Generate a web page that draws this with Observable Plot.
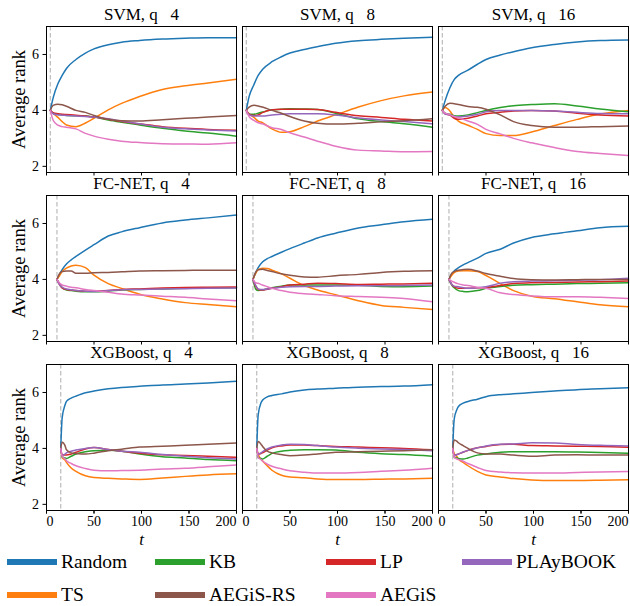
<!DOCTYPE html>
<html>
<head>
<meta charset="utf-8">
<script src="https://cdn.jsdelivr.net/npm/d3@7"></script>
<script src="https://cdn.jsdelivr.net/npm/@observablehq/plot@0.6"></script>
<style>
  html, body { margin: 0; padding: 0; background: #fff; }
  #wrap { position: relative; width: 630px; height: 606px; font-family: 'Liberation Serif', 'Times New Roman', 'Liberation Sans', Arial, sans-serif; }
  #wrap svg text { white-space: pre; }
  #legend { position: absolute; left: 0; top: 0; width: 630px; height: 606px; pointer-events: none; }
  .li { position: absolute; display: flex; align-items: center; font-size: 19.5px; color: #000; }
  .sw { width: 50px; height: 6px; margin-right: 4px; }
</style>
</head>
<body>
<div id="wrap"><div id="chart"></div><div id="legend"></div></div>
<script>
// ---- categories ----
const methods = ["Random", "TS", "KB", "LP", "PLAyBOOK", "AEGiS-RS", "AEGiS"]; // draw order
const colors  = ["#1f77b4", "#ff7f0e", "#2ca02c", "#d62728", "#9467bd", "#8c564b", "#e377c2"];
const legendOrder = ["Random", "KB", "LP", "PLAyBOOK", "TS", "AEGiS-RS", "AEGiS"];
const models = ["SVM", "FC-NET", "XGBoost"];
const budgets = [4, 8, 16];
const xTicksMid = [50, 100, 150];
const xTickFirst = [0];
const xTickLast = [200];
const yTicks = [2, 4, 6];
const warmStart = [4, 11, 15]; // dashed line per model row

// ---- time grids (per model row) ----
const tSVM = [4, 7, 12, 16.5, 21, 31, 41, 50, 65, 79, 98, 122, 146, 170, 200];
const tFC  = [11, 14, 16.5, 21, 26, 31, 41, 50, 65, 79, 98, 122, 146, 170, 200];
const tXGB = [15, 16.5, 19.5, 21, 26, 31, 41, 50, 65, 79, 98, 122, 146, 170, 200];

// ---- series values, each in the order of `methods` ----
const svm_q4 = [
  [4.0, 4.45, 4.95, 5.25, 5.5, 5.82, 6.05, 6.2, 6.35, 6.44, 6.5, 6.55, 6.58, 6.6, 6.6],
  [4.0, 3.9, 3.75, 3.6, 3.48, 3.42, 3.55, 3.72, 4.02, 4.25, 4.5, 4.75, 4.88, 4.98, 5.11],
  [4.0, 3.9, 3.86, 3.84, 3.82, 3.81, 3.8, 3.76, 3.66, 3.58, 3.48, 3.36, 3.26, 3.19, 3.08],
  [4.0, 3.92, 3.88, 3.86, 3.85, 3.83, 3.8, 3.76, 3.68, 3.6, 3.52, 3.42, 3.36, 3.32, 3.29],
  [4.0, 3.88, 3.84, 3.83, 3.82, 3.8, 3.78, 3.76, 3.7, 3.62, 3.52, 3.4, 3.34, 3.3, 3.26],
  [4.0, 4.18, 4.22, 4.2, 4.15, 4.0, 3.93, 3.82, 3.68, 3.63, 3.62, 3.67, 3.72, 3.76, 3.82],
  [4.0, 3.65, 3.47, 3.42, 3.4, 3.34, 3.18, 3.08, 2.97, 2.9, 2.85, 2.81, 2.8, 2.79, 2.84]
];
const svm_q8 = [
  [4.0, 4.5, 4.92, 5.25, 5.46, 5.74, 5.92, 6.05, 6.18, 6.28, 6.4, 6.49, 6.54, 6.58, 6.62],
  [4.0, 3.88, 3.75, 3.62, 3.56, 3.34, 3.22, 3.24, 3.42, 3.62, 3.84, 4.12, 4.35, 4.52, 4.66],
  [4.0, 3.86, 3.86, 3.9, 3.94, 4.02, 4.04, 4.06, 4.05, 4.03, 3.9, 3.7, 3.6, 3.52, 3.4],
  [4.0, 3.86, 3.82, 3.84, 3.92, 4.02, 4.04, 4.04, 4.04, 4.03, 3.93, 3.81, 3.75, 3.68, 3.62],
  [4.0, 3.84, 3.8, 3.8, 3.8, 3.84, 3.86, 3.88, 3.88, 3.88, 3.84, 3.73, 3.66, 3.6, 3.52],
  [4.0, 4.12, 4.18, 4.16, 4.12, 4.0, 3.9, 3.78, 3.62, 3.54, 3.51, 3.54, 3.59, 3.63, 3.7],
  [4.0, 3.78, 3.64, 3.56, 3.52, 3.38, 3.32, 3.2, 3.05, 2.9, 2.72, 2.58, 2.55, 2.52, 2.53]
];
const svm_q16 = [
  [4.0, 4.35, 4.81, 5.1, 5.25, 5.44, 5.65, 5.82, 5.98, 6.1, 6.24, 6.36, 6.45, 6.5, 6.52],
  [4.0, 4.1, 3.98, 3.76, 3.62, 3.47, 3.32, 3.17, 3.1, 3.1, 3.23, 3.46, 3.68, 3.87, 4.0],
  [4.0, 3.9, 3.86, 3.81, 3.8, 3.84, 3.92, 4.0, 4.1, 4.17, 4.21, 4.24, 4.16, 4.05, 3.95],
  [4.0, 3.88, 3.83, 3.72, 3.68, 3.72, 3.8, 3.88, 3.93, 3.98, 4.0, 3.98, 3.9, 3.84, 3.8],
  [4.0, 3.87, 3.84, 3.78, 3.76, 3.8, 3.86, 3.95, 4.0, 4.0, 4.0, 3.98, 3.93, 3.89, 3.88],
  [4.0, 4.15, 4.26, 4.24, 4.21, 4.14, 4.11, 4.04, 3.84, 3.6, 3.46, 3.4, 3.4, 3.42, 3.44],
  [4.0, 3.9, 3.85, 3.78, 3.74, 3.62, 3.5, 3.32, 3.16, 3.0, 2.84, 2.67, 2.53, 2.46, 2.39]
];
const fc_q4 = [
  [4.0, 4.2, 4.35, 4.55, 4.7, 4.82, 5.05, 5.24, 5.55, 5.7, 5.85, 6.02, 6.12, 6.2, 6.3],
  [4.0, 4.15, 4.28, 4.4, 4.48, 4.51, 4.42, 4.15, 3.85, 3.68, 3.47, 3.3, 3.17, 3.1, 3.02],
  [4.0, 3.82, 3.7, 3.62, 3.6, 3.58, 3.56, 3.56, 3.58, 3.62, 3.64, 3.66, 3.68, 3.69, 3.7],
  [4.0, 3.8, 3.7, 3.64, 3.62, 3.6, 3.58, 3.58, 3.6, 3.64, 3.66, 3.69, 3.71, 3.72, 3.73],
  [4.0, 3.8, 3.72, 3.66, 3.63, 3.6, 3.58, 3.57, 3.6, 3.63, 3.64, 3.66, 3.67, 3.68, 3.69],
  [4.0, 4.22, 4.28, 4.3, 4.3, 4.22, 4.22, 4.24, 4.25, 4.27, 4.3, 4.31, 4.32, 4.33, 4.33],
  [4.0, 3.86, 3.8, 3.76, 3.72, 3.7, 3.64, 3.6, 3.54, 3.48, 3.44, 3.4, 3.36, 3.3, 3.24]
];
const fc_q8 = [
  [4.0, 4.25, 4.42, 4.62, 4.74, 4.82, 4.97, 5.1, 5.3, 5.48, 5.65, 5.84, 5.95, 6.06, 6.15],
  [4.0, 4.22, 4.35, 4.4, 4.39, 4.33, 4.2, 4.04, 3.78, 3.62, 3.45, 3.24, 3.07, 3.0, 2.92],
  [4.0, 3.65, 3.6, 3.62, 3.66, 3.7, 3.76, 3.8, 3.8, 3.8, 3.8, 3.79, 3.75, 3.74, 3.76],
  [4.0, 3.75, 3.64, 3.62, 3.65, 3.68, 3.74, 3.8, 3.83, 3.86, 3.85, 3.82, 3.83, 3.84, 3.86],
  [4.0, 3.78, 3.66, 3.64, 3.66, 3.68, 3.72, 3.74, 3.75, 3.75, 3.76, 3.77, 3.77, 3.78, 3.8],
  [4.0, 4.26, 4.34, 4.36, 4.32, 4.28, 4.2, 4.15, 4.09, 4.08, 4.13, 4.18, 4.25, 4.29, 4.31],
  [4.0, 3.88, 3.86, 3.8, 3.74, 3.68, 3.6, 3.54, 3.49, 3.46, 3.42, 3.39, 3.36, 3.32, 3.2]
];
const fc_q16 = [
  [4.0, 4.2, 4.3, 4.42, 4.52, 4.6, 4.76, 4.93, 5.08, 5.3, 5.5, 5.63, 5.74, 5.85, 5.9],
  [4.0, 4.15, 4.24, 4.3, 4.31, 4.31, 4.28, 4.14, 3.85, 3.6, 3.4, 3.31, 3.2, 3.09, 3.02],
  [4.0, 3.8, 3.7, 3.6, 3.57, 3.56, 3.6, 3.68, 3.75, 3.79, 3.81, 3.83, 3.85, 3.86, 3.88],
  [4.0, 3.82, 3.74, 3.68, 3.68, 3.68, 3.7, 3.71, 3.78, 3.85, 3.88, 3.89, 3.91, 3.92, 3.94],
  [4.0, 3.82, 3.76, 3.74, 3.7, 3.68, 3.7, 3.74, 3.86, 3.92, 3.94, 3.95, 3.97, 3.99, 4.04],
  [4.0, 4.22, 4.28, 4.33, 4.35, 4.36, 4.3, 4.21, 4.11, 4.03, 3.99, 3.98, 3.99, 4.0, 4.0],
  [4.0, 3.94, 3.9, 3.84, 3.8, 3.78, 3.72, 3.68, 3.52, 3.46, 3.41, 3.38, 3.38, 3.36, 3.32]
];
const xgb_q4 = [
  [4.0, 5.1, 5.55, 5.68, 5.8, 5.87, 5.99, 6.05, 6.13, 6.18, 6.22, 6.27, 6.3, 6.34, 6.4],
  [4.0, 3.68, 3.58, 3.5, 3.3, 3.18, 3.02, 2.96, 2.93, 2.91, 2.89, 2.94, 3.0, 3.05, 3.09],
  [4.0, 3.7, 3.66, 3.64, 3.72, 3.8, 3.88, 3.92, 3.93, 3.9, 3.8, 3.7, 3.66, 3.6, 3.56],
  [4.0, 3.76, 3.76, 3.76, 3.8, 3.86, 3.98, 4.03, 3.96, 3.9, 3.83, 3.77, 3.75, 3.72, 3.68],
  [4.0, 3.74, 3.8, 3.84, 3.9, 3.94, 4.0, 4.03, 3.96, 3.9, 3.86, 3.78, 3.72, 3.67, 3.62],
  [4.0, 4.22, 4.1, 3.95, 3.84, 3.82, 3.8, 3.83, 3.92, 3.97, 4.05, 4.08, 4.11, 4.15, 4.19],
  [4.0, 3.72, 3.62, 3.56, 3.46, 3.38, 3.28, 3.22, 3.2, 3.21, 3.22, 3.26, 3.29, 3.34, 3.41]
];
const xgb_q8 = [
  [4.0, 5.2, 5.63, 5.72, 5.84, 5.89, 5.95, 6.02, 6.09, 6.12, 6.15, 6.19, 6.21, 6.23, 6.28],
  [4.0, 3.78, 3.62, 3.56, 3.38, 3.22, 3.04, 2.98, 2.95, 2.91, 2.89, 2.89, 2.9, 2.91, 2.93],
  [4.0, 3.67, 3.64, 3.62, 3.72, 3.82, 3.9, 3.93, 3.95, 3.95, 3.94, 3.86, 3.81, 3.78, 3.72],
  [4.0, 3.8, 3.82, 3.84, 3.94, 4.02, 4.09, 4.12, 4.12, 4.1, 4.07, 4.05, 4.02, 4.0, 3.95],
  [4.0, 3.8, 3.84, 3.88, 3.98, 4.05, 4.12, 4.15, 4.14, 4.1, 4.05, 4.01, 3.98, 3.96, 3.92],
  [4.0, 4.25, 4.15, 4.08, 3.9, 3.84, 3.78, 3.74, 3.76, 3.8, 3.86, 3.88, 3.9, 3.92, 3.95],
  [4.0, 3.68, 3.6, 3.55, 3.44, 3.36, 3.27, 3.2, 3.15, 3.12, 3.12, 3.14, 3.18, 3.22, 3.29]
];
const xgb_q16 = [
  [4.0, 5.04, 5.4, 5.5, 5.62, 5.68, 5.76, 5.85, 5.92, 5.95, 6.0, 6.05, 6.1, 6.13, 6.17],
  [4.0, 3.82, 3.7, 3.62, 3.5, 3.38, 3.18, 3.05, 2.98, 2.92, 2.87, 2.85, 2.85, 2.86, 2.88],
  [4.0, 3.68, 3.66, 3.64, 3.62, 3.66, 3.76, 3.8, 3.86, 3.88, 3.88, 3.88, 3.87, 3.85, 3.83],
  [4.0, 3.74, 3.78, 3.8, 3.86, 3.93, 4.02, 4.07, 4.14, 4.15, 4.1, 4.09, 4.08, 4.07, 4.04],
  [4.0, 3.74, 3.78, 3.8, 3.87, 3.93, 4.02, 4.09, 4.15, 4.16, 4.2, 4.19, 4.14, 4.11, 4.09],
  [4.0, 4.3, 4.25, 4.2, 4.1, 4.0, 3.84, 3.8, 3.8, 3.76, 3.72, 3.76, 3.77, 3.76, 3.76],
  [4.0, 3.68, 3.62, 3.6, 3.54, 3.46, 3.32, 3.21, 3.16, 3.13, 3.12, 3.12, 3.14, 3.16, 3.17]
];

// ---- build tidy table ----
const grids = [tSVM, tFC, tXGB];
const panelValues = [
  [svm_q4, svm_q8, svm_q16],
  [fc_q4, fc_q8, fc_q16],
  [xgb_q4, xgb_q8, xgb_q16]
];
const rows = [];
const panels = [];
models.forEach((model, r) => {
  budgets.forEach((q, c) => {
    panels.push({model, q, title: `${model}, q   ${q}`, start: warmStart[r]});
    panelValues[r][c].forEach((series, mi) => {
      series.forEach((v, i) => rows.push({model, q, method: methods[mi], t: grids[r][i], v}));
    });
  });
});
const leftPanels = panels.filter(p => p.q === budgets[0]);
const bottomPanels = panels.filter(p => p.model === models[models.length - 1]);

const FONT = "'Liberation Serif', 'Times New Roman', 'Liberation Sans', Arial, sans-serif";
const tickOpts = {tickSize: 3.5, tickPadding: 2, label: null, fontSize: 14, tickFormat: d => String(d)};

const chart = Plot.plot({
  width: 630,
  height: 556,
  marginLeft: 44.5,
  marginRight: 1.7,
  marginTop: 25,
  marginBottom: 44,
  style: {fontFamily: FONT, fontSize: "14px", color: "#000", background: "transparent", overflow: "visible"},
  fx: {domain: budgets, paddingInner: 0.033, paddingOuter: 0, axis: null},
  fy: {domain: models, paddingInner: 0.135, paddingOuter: 0, axis: null},
  x: {domain: [0, 200]},
  y: {domain: [1.78, 7.0]},
  color: {domain: methods, range: colors},
  marks: [
    Plot.ruleX(panels, {x: "start", fx: "q", fy: "model", stroke: "#b5b5b5", strokeWidth: 1.1, strokeDasharray: "4.5,2.5"}),
    Plot.line(rows, {x: "t", y: "v", z: "method", stroke: "method", fx: "q", fy: "model", curve: "monotone-x", strokeWidth: 1.5}),
    Plot.frame({stroke: "#000", strokeWidth: 1}),
    Plot.axisX({ticks: [...xTickFirst, ...xTicksMid, ...xTickLast], tickFormat: () => "", facetAnchor: null, tickSize: 3.5, label: null}),
    Plot.axisX({...tickOpts, ticks: xTicksMid}),
    Plot.axisX({...tickOpts, ticks: xTickFirst, textAnchor: "start"}),
    Plot.axisX({...tickOpts, ticks: xTickLast, textAnchor: "end"}),
    Plot.axisY({...tickOpts, ticks: yTicks, tickPadding: 4}),
    Plot.text(panels, {fx: "q", fy: "model", text: "title", frameAnchor: "top", lineAnchor: "middle", dy: -12, fontSize: 17}),
    Plot.text(leftPanels, {fx: "q", fy: "model", text: () => "Average rank", frameAnchor: "left", textAnchor: "middle", lineAnchor: "middle", rotate: -90, dx: -27, fontSize: 18.5}),
    Plot.text(bottomPanels, {fx: "q", fy: "model", text: () => "t", frameAnchor: "bottom", lineAnchor: "middle", dy: 29, fontSize: 17, fontStyle: "italic"})
  ]
});
document.getElementById("chart").appendChild(chart);

// ---- legend ----
const legend = document.getElementById("legend");
const colX = [7, 155, 326, 462];
const rowY = [562, 595];
legendOrder.forEach((m, i) => {
  const item = document.createElement("div");
  item.className = "li";
  item.style.left = colX[i % 4] + "px";
  item.style.top = (rowY[Math.floor(i / 4)] - 13) + "px";
  item.style.height = "26px";
  const sw = document.createElement("span");
  sw.className = "sw";
  sw.style.background = colors[methods.indexOf(m)];
  const tx = document.createElement("span");
  tx.textContent = m;
  item.appendChild(sw);
  item.appendChild(tx);
  legend.appendChild(item);
});
</script>
</body>
</html>
